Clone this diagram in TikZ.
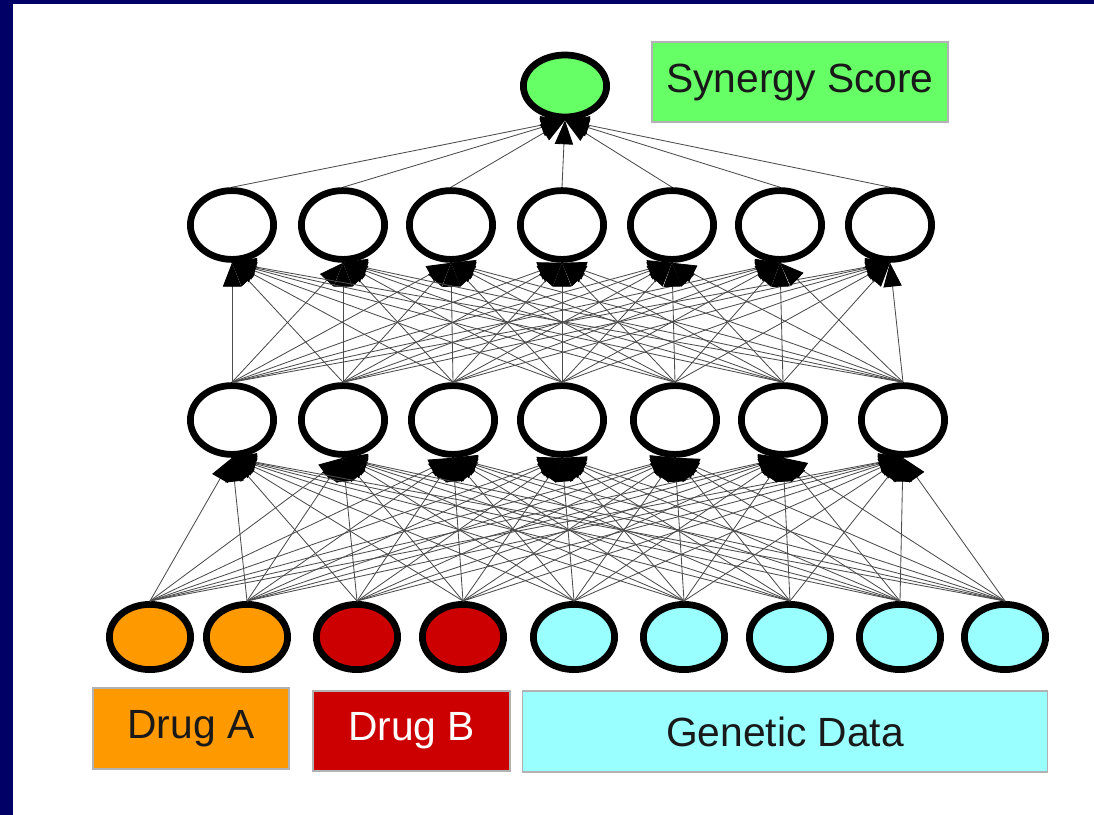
\documentclass[tikz,border=0pt]{standalone}
\usepackage{fontspec}
\setmainfont{Liberation Sans}
\usetikzlibrary{shapes.geometric}
\usetikzlibrary{arrows.meta}

\definecolor{frame}{HTML}{000066}
\definecolor{drugA}{HTML}{FF9900}
\definecolor{drugB}{HTML}{CC0000}
\definecolor{genes}{HTML}{99FFFF}
\definecolor{score}{HTML}{66FF66}

\begin{document}
\begin{tikzpicture}[x=0.025cm,y=-0.025cm,
    unit/.style={ellipse,draw=black,line width=4.8pt,fill=white,inner sep=0pt,minimum width=2.08cm,minimum height=1.72cm},
    syn/.style={-{Triangle[length=17pt,width=13pt,black]},draw=black!70,line width=0.6pt},
    legend/.style={rectangle,draw=black!30,line width=0.8pt,inner sep=0pt,text=black!90,font=\fontsize{29}{33}\selectfont}]
  \useasboundingbox (0,0) rectangle (1094,815);
  \fill[frame] (0,0) rectangle (13,815);
  \fill[frame] (0,0) rectangle (1094,4);
  % input layer
  \foreach \x/\c [count=\i] in {150/drugA,247/drugA,357/drugB,463/drugB,574/genes,684/genes,790/genes,900/genes,1005/genes}
    \node[unit,fill=\c,minimum width=2.03cm,minimum height=1.63cm] (in\i) at (\x,637) {};
  % hidden layers
  \foreach \x [count=\i] in {232,343,453,562,675,783,903}
    \node[unit] (hA\i) at (\x,420) {};
  \foreach \x [count=\i] in {232,343,451,562,672,780,890}
    \node[unit] (hB\i) at (\x,225) {};
  % output
  \node[unit,fill=score,minimum height=1.55cm] (out) at (565,86) {};
  % connections
  \foreach \i in {1,...,9}
    \foreach \j in {1,...,7}
      \draw[syn] (in\i.north) -- (hA\j.south);
  \foreach \i in {1,...,7}
    \foreach \j in {1,...,7}
      \draw[syn] (hA\i.north) -- (hB\j.south);
  \foreach \i in {1,...,7}
    \draw[syn] (hB\i.north) -- (out.south);
  % legend boxes
  \node[legend,fill=score,minimum width=7.4cm,minimum height=2cm] (scorebox) at (800,82) {Synergy Score};
  \node[legend,fill=drugA,minimum width=4.9cm,minimum height=2.025cm] (boxA) at (191,728.5) {Drug A};
  \node[legend,fill=drugB,text=white,minimum width=4.925cm,minimum height=2cm] (boxB) at (411.5,731) {Drug B};
  \node[legend,fill=genes,minimum width=13.1cm,minimum height=2.025cm] (boxG) at (785,731.5) {Genetic Data};
\end{tikzpicture}
\end{document}
